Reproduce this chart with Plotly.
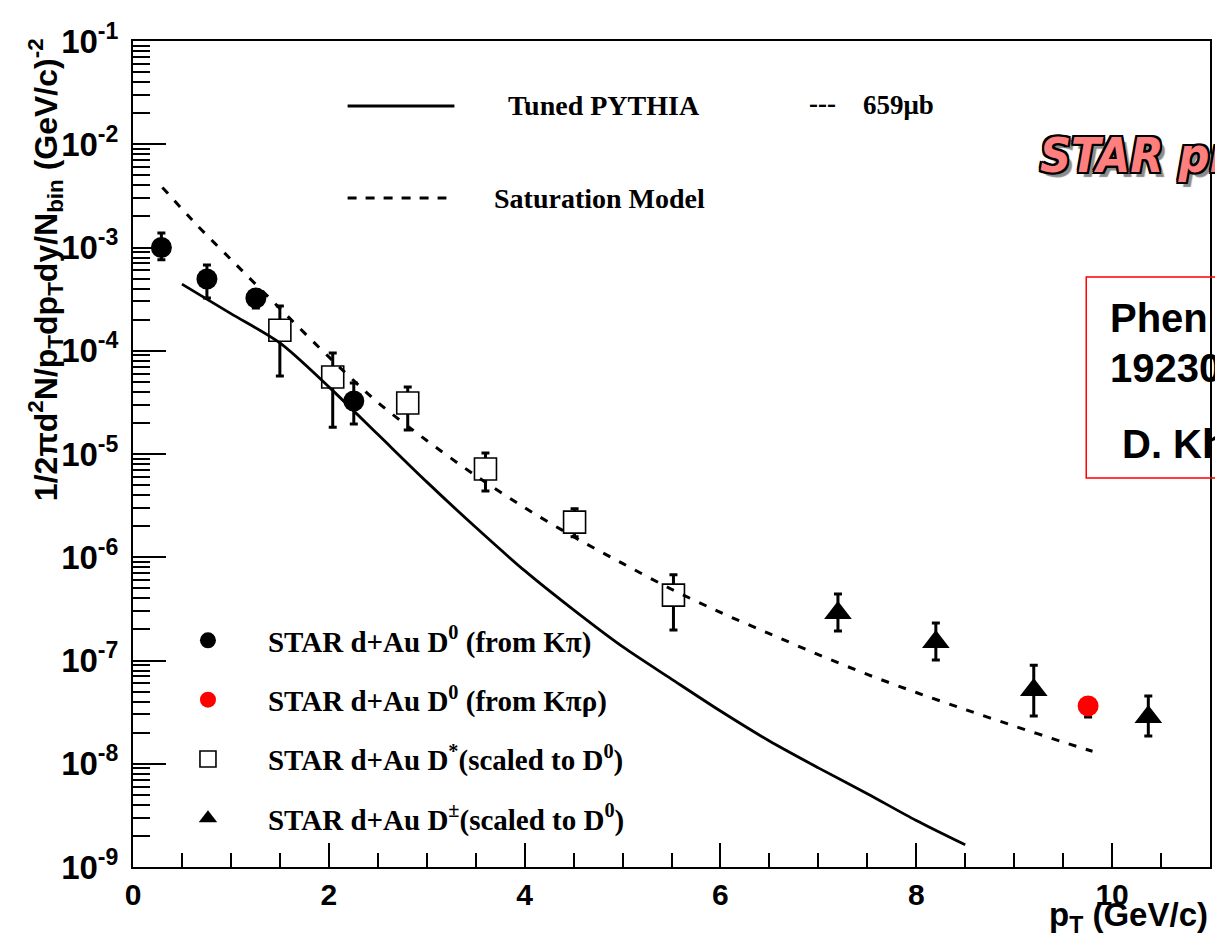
import plotly.graph_objects as go

# ---------------- data ----------------
kpi_pt = [0.29, 0.755, 1.255, 2.255]
kpi_y = [1.0e-3, 4.95e-4, 3.24e-4, 3.26e-5]
kpi_hi = [1.38e-3, 6.76e-4, 3.9e-4, 4.87e-5]
kpi_lo = [7.6e-4, 3.24e-4, 2.6e-4, 1.95e-5]

kpirho_pt = [9.755]
kpirho_y = [3.63e-8]
kpirho_hi = [4.3e-8]
kpirho_lo = [2.84e-8]

dstar_pt = [1.5, 2.04, 2.806, 3.6, 4.51, 5.52]
dstar_y = [1.58e-4, 5.57e-5, 3.12e-5, 7.16e-6, 2.19e-6, 4.3e-7]
dstar_hi = [2.71e-4, 9.5e-5, 4.46e-5, 1.02e-5, 2.95e-6, 6.76e-7]
dstar_lo = [5.69e-5, 1.82e-5, 1.71e-5, 4.38e-6, 1.58e-6, 1.97e-7]

dpm_pt = [7.2, 8.2, 9.2, 10.37]
dpm_y = [2.88e-7, 1.51e-7, 5.18e-8, 2.84e-8]
dpm_hi = [4.41e-7, 2.31e-7, 9.0e-8, 4.53e-8]
dpm_lo = [1.93e-7, 1.01e-7, 2.9e-8, 1.86e-8]

pythia_pt = [0.5, 1.0, 1.5, 2.0, 2.5, 3.0, 3.5, 4.0, 4.5, 5.0, 5.5, 6.0, 6.5, 7.0,
             7.5, 8.0, 8.5]
pythia_y = [4.42e-4, 2.29e-4, 1.19e-4, 4.47e-5, 1.55e-5, 5.37e-6, 1.95e-6, 7.41e-7,
            3.09e-7, 1.36e-7, 6.61e-8, 3.24e-8, 1.66e-8, 9.12e-9, 5.13e-9, 2.82e-9, 1.64e-9]

sat_pt = [0.3, 0.65, 1.0, 1.5, 2.0, 2.5, 3.0, 3.5, 4.0, 4.5, 5.0, 5.5, 6.0, 6.5, 7.0,
          7.5, 8.0, 8.5, 9.0, 9.5, 9.8]
sat_y = [3.82e-3, 1.66e-3, 7.67e-4, 2.57e-4, 8.71e-5, 3.16e-5, 1.35e-5, 6.17e-6,
         3.02e-6, 1.58e-6, 8.71e-7, 4.9e-7, 2.92e-7, 1.82e-7, 1.14e-7, 7.33e-8,
         4.9e-8, 3.35e-8, 2.32e-8, 1.62e-8, 1.32e-8]

ytick_vals = [1e-9, 1e-8, 1e-7, 1e-6, 1e-5, 1e-4, 1e-3, 1e-2, 1e-1]
ytick_text = ["10<sup>-9</sup>", "10<sup>-8</sup>", "10<sup>-7</sup>", "10<sup>-6</sup>",
              "10<sup>-5</sup>", "10<sup>-4</sup>", "10<sup>-3</sup>", "10<sup>-2</sup>",
              "10<sup>-1</sup>"]

names = ["STAR d+Au D<sup>0</sup> (from Kπ)",
         "STAR d+Au D<sup>0</sup> (from Kπρ)",
         "STAR d+Au D<sup>*</sup>(scaled to D<sup>0</sup>)",
         "STAR d+Au D<sup>±</sup>(scaled to D<sup>0</sup>)"]

# ---------------- layout geometry ----------------
W, H = 1215, 940
L, R, T, B = 133, 3, 41, 73
PW, PH = W - L - R, H - T - B


def fx(px):
    return (px - L) / PW


def fy(py):
    return (H - B - py) / PH


SERIF = "Liberation Serif, Times New Roman, serif"
SANS = "Liberation Sans, Arial, sans-serif"


def errs(y, hi, lo):
    return [h - v for v, h in zip(y, hi)], [v - l for v, l in zip(y, lo)]


fig = go.Figure()

p, m = errs(dstar_y, dstar_hi, dstar_lo)
fig.add_trace(go.Scatter(
    x=dstar_pt, y=dstar_y, mode="markers", name=names[2], legendgroup="c", legendrank=3,
    marker=dict(symbol="square", size=22, color="white", line=dict(color="black", width=1.6)),
    error_y=dict(type="data", array=p, arrayminus=m, color="black", thickness=3, width=4)))

fig.add_trace(go.Scatter(x=pythia_pt, y=pythia_y, mode="lines", showlegend=False,
                         line=dict(color="black", width=2.8, shape="spline", smoothing=0.8)))
fig.add_trace(go.Scatter(x=sat_pt, y=sat_y, mode="lines", showlegend=False,
                         line=dict(color="black", width=3, dash="8px,10px",
                                   shape="spline", smoothing=0.8)))

p, m = errs(kpi_y, kpi_hi, kpi_lo)
fig.add_trace(go.Scatter(
    x=kpi_pt, y=kpi_y, mode="markers", name=names[0], legendgroup="a", legendrank=1,
    marker=dict(symbol="circle", size=21, color="black"),
    error_y=dict(type="data", array=p, arrayminus=m, color="black", thickness=3, width=4)))

p, m = errs(kpirho_y, kpirho_hi, kpirho_lo)
fig.add_trace(go.Scatter(
    x=kpirho_pt, y=kpirho_y, mode="markers", name=names[1], legendgroup="b", legendrank=2,
    marker=dict(symbol="circle", size=21, color="#ff0000"),
    error_y=dict(type="data", array=p, arrayminus=m, color="black", thickness=3, width=4)))

p, m = errs(dpm_y, dpm_hi, dpm_lo)
fig.add_trace(go.Scatter(
    x=dpm_pt, y=dpm_y, mode="markers", name=names[3], legendgroup="d", legendrank=4,
    marker=dict(symbol="triangle-up", size=24, color="black"),
    error_y=dict(type="data", array=p, arrayminus=m, color="black", thickness=3, width=4)))

fig.update_layout(
    width=W, height=H, autosize=False,
    margin=dict(l=L, r=R, t=T, b=B, pad=0),
    paper_bgcolor="white", plot_bgcolor="white",
    showlegend=True,
    legend=dict(x=fx(148), y=fy(615), xanchor="left", yanchor="top",
                xref="paper", yref="paper",
                font=dict(family=SERIF, size=29, color="black", weight="bold"),
                itemwidth=110, tracegroupgap=18.6, traceorder="grouped",
                bgcolor="rgba(0,0,0,0)", borderwidth=0, itemsizing="trace"),
    xaxis=dict(range=[0, 11], tick0=0, dtick=2, ticks="inside", ticklen=24, tickwidth=1.5,
               tickcolor="black", showline=True, linecolor="black", linewidth=2, mirror=True,
               showgrid=False, zeroline=False, ticklabelstandoff=0,
               tickfont=dict(family=SANS, size=30, color="black", weight="bold"),
               minor=dict(ticks="inside", ticklen=14, tickwidth=1.5, dtick=0.5,
                          tickcolor="black", showgrid=False)),
    yaxis=dict(type="log", range=[-9, -1], tickmode="array", tickvals=ytick_vals,
               ticktext=ytick_text, ticks="inside", ticklen=33, tickwidth=2,
               tickcolor="black", showline=True, linecolor="black", linewidth=2, mirror=True,
               showgrid=False, zeroline=False, ticklabelstandoff=6,
               tickfont=dict(family=SANS, size=33, color="black", weight="bold"),
               minor=dict(ticks="inside", ticklen=17, tickwidth=1.5, dtick="D1",
                          tickcolor="black", showgrid=False)),
)

# top legend samples
fig.add_shape(type="line", xref="paper", yref="paper", x0=fx(348), x1=fx(455),
              y0=fy(106), y1=fy(106), line=dict(color="black", width=3))
fig.add_shape(type="line", xref="paper", yref="paper", x0=fx(348), x1=fx(447),
              y0=fy(198), y1=fy(198), line=dict(color="black", width=3, dash="9px,9px"))
# red box
fig.add_shape(type="rect", xref="paper", yref="paper", x0=fx(1088), x1=fx(1260),
              y0=fy(478), y1=fy(277), line=dict(color="#ff0000", width=1.5))


def ann(text, px, py, size, family, xanchor="left", angle=0, color="black", **kw):
    fig.add_annotation(text=text, x=fx(px), y=fy(py), xref="paper", yref="paper",
                       xanchor=xanchor, yanchor="middle", showarrow=False, textangle=angle,
                       font=dict(family=family, size=size, color=color, weight="bold", **kw))


ann("Tuned PYTHIA", 507, 105, 28, SERIF)
ann("---", 808, 103, 27, SERIF)
ann("659μb", 862, 105, 27, SERIF)
ann("Saturation Model", 493, 198, 28, SERIF)

ann("1/2πd<sup>2</sup>N/p<sub>T</sub>dp<sub>T</sub>dy/N<sub>bin</sub> (GeV/c)<sup>-2</sup>",
    45, 270, 32, SANS, xanchor="center", angle=-90)
ann("p<sub>T</sub> (GeV/c)", 1212, 917, 33, SANS, xanchor="right")

ann("STAR preliminary", 1040, 155, 48,
    "Liberation Sans Narrow, DejaVu Sans Condensed, Arial Narrow, sans-serif",
    color="#ff7f7f", style="italic",
    shadow="2px 0 0 #000, -2px 0 0 #000, 0 2px 0 #000, 0 -2px 0 #000, "
           "2px 2px 0 #000, -2px -2px 0 #000, 2px -2px 0 #000, -2px 2px 0 #000, "
           "5px 5px 1px #8c8c8c")

ann("Phen", 1110, 318, 40, SANS)
ann("19230", 1110, 368, 40, SANS)
ann("D. Kh", 1122, 444, 40, SANS)

fig.write_html("out.html", config={"displayModeBar": False})
